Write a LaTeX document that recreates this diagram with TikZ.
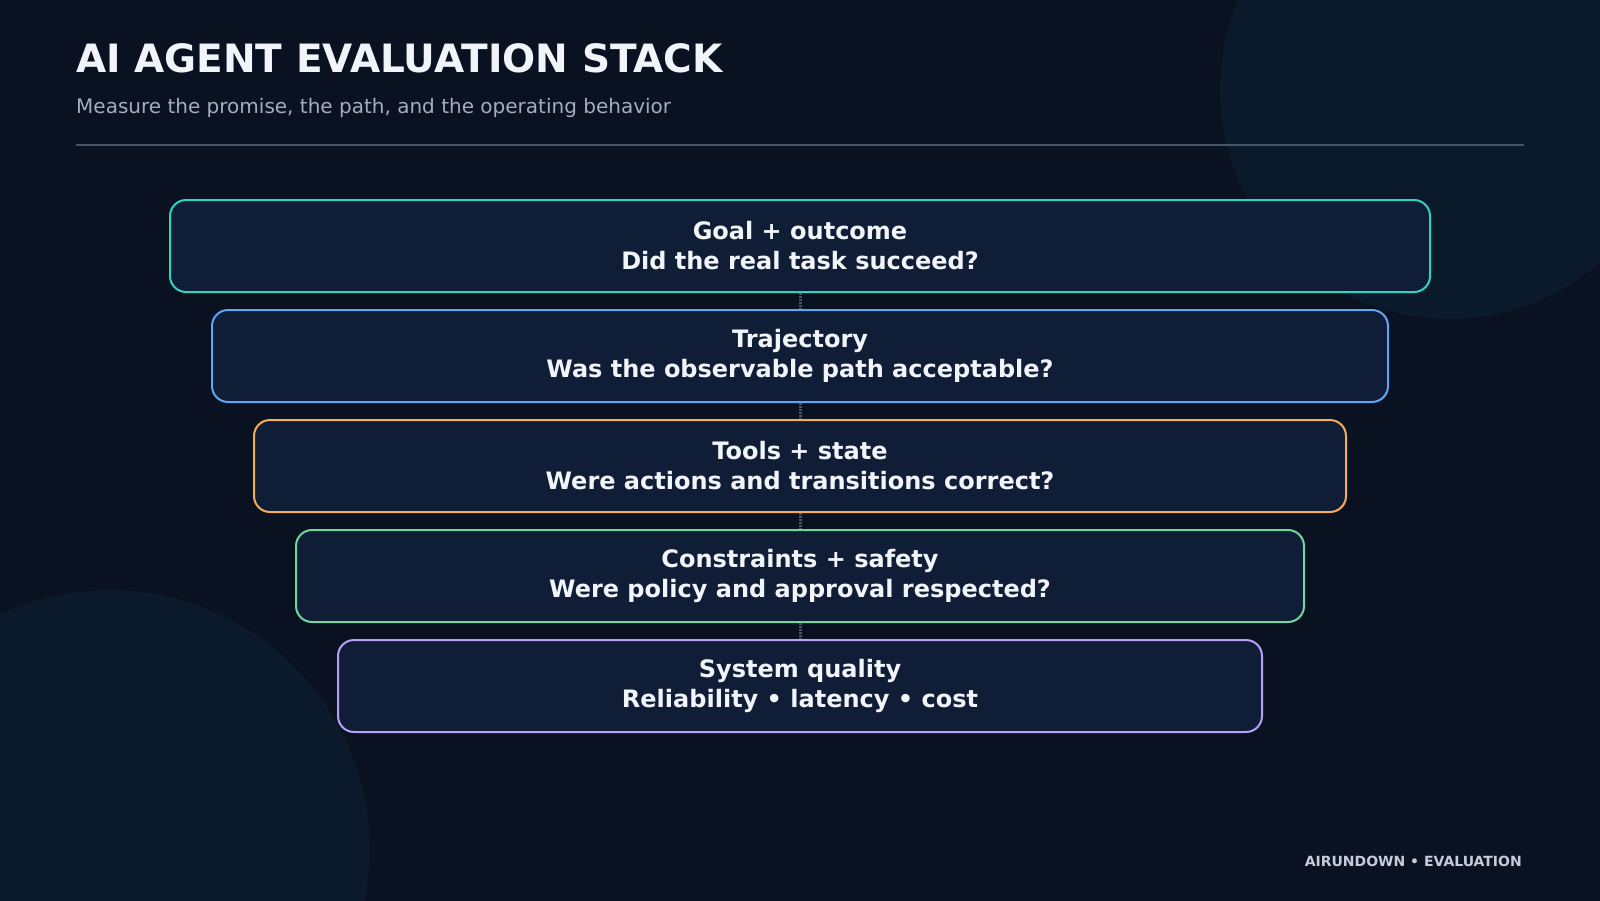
\documentclass[tikz,border=0pt]{standalone}
\usepackage{fontspec}
\setmainfont{DejaVu Sans}
\usetikzlibrary{positioning}
\definecolor{bgdark}{HTML}{0A1120}
\definecolor{bgdisc}{HTML}{0B1A2A}
\definecolor{cardfill}{HTML}{0F1E36}
\definecolor{rulegray}{HTML}{475569}
\definecolor{linkgray}{HTML}{475569}
\definecolor{subgray}{HTML}{A0AEC2}
\definecolor{footgray}{HTML}{C3CDDB}
\definecolor{inkwhite}{HTML}{F1F5F9}
\definecolor{teal}{HTML}{2DD4BF}
\definecolor{sky}{HTML}{60A5FA}
\definecolor{amber}{HTML}{F6AD55}
\definecolor{mint}{HTML}{74D69C}
\definecolor{lilac}{HTML}{B7A0F8}

\begin{document}
\begin{tikzpicture}[x=1pt, y=-1pt,
    card/.style={draw=#1, line width=2pt, fill=cardfill, rounded corners=16pt,
      minimum height=92pt, inner sep=0pt, align=center, text=inkwhite,
      font=\fontsize{24}{30}\selectfont\bfseries},
    link/.style={linkgray, line width=3pt, dash pattern=on 2pt off 1pt}]
			%%%%% BACKGROUND %%%%%
			\useasboundingbox (0, 0) rectangle (1600, 900);
			\fill[bgdark] (-10, -10) rectangle (1610, 910);
			\begin{scope}
				\clip (-10, -10) rectangle (1610, 910);
				\fill[bgdisc] (1449, 90) circle (229);
				\fill[bgdisc] (110, 850) circle (260);
			\end{scope}
			
			%%%%% HEADER %%%%%
			\node[anchor=base west, inner sep=0pt, text=inkwhite, font=\fontsize{39}{39}\selectfont\bfseries] (title) at (76, 72.7) {AI AGENT EVALUATION STACK};
			\node[anchor=base west, inner sep=0pt, text=subgray, font=\fontsize{20}{20}\selectfont] (subtitle) at (76, 113) {Measure the promise, the path, and the operating behavior};
			\draw[rulegray, line width=2pt] (76, 145) -- (1524, 145);
			
			%%%%% STACK %%%%%
			\node[card=teal, minimum width=1260pt] (goal) at (800, 246) {Goal + outcome\\Did the real task succeed?};
			\node[card=sky, minimum width=1176pt] (traj) at (800, 356) {Trajectory\\Was the observable path acceptable?};
			\node[card=amber, minimum width=1092pt] (tools) at (800, 466) {Tools + state\\Were actions and transitions correct?};
			\node[card=mint, minimum width=1008pt] (safety) at (800, 576) {Constraints + safety\\Were policy and approval respected?};
			\node[card=lilac, minimum width=924pt] (quality) at (800, 686) {System quality\\Reliability • latency • cost};
			
			\draw[link] (goal.south) -- (traj.north);
			\draw[link] (traj.south) -- (tools.north);
			\draw[link] (tools.south) -- (safety.north);
			\draw[link] (safety.south) -- (quality.north);
			
			%%%%% FOOTER %%%%%
			\node[anchor=base east, inner sep=0pt, text=footgray, font=\fontsize{14}{14}\selectfont\bfseries] (footer) at (1522, 866) {AIRUNDOWN • EVALUATION};
\end{tikzpicture}
\end{document}
